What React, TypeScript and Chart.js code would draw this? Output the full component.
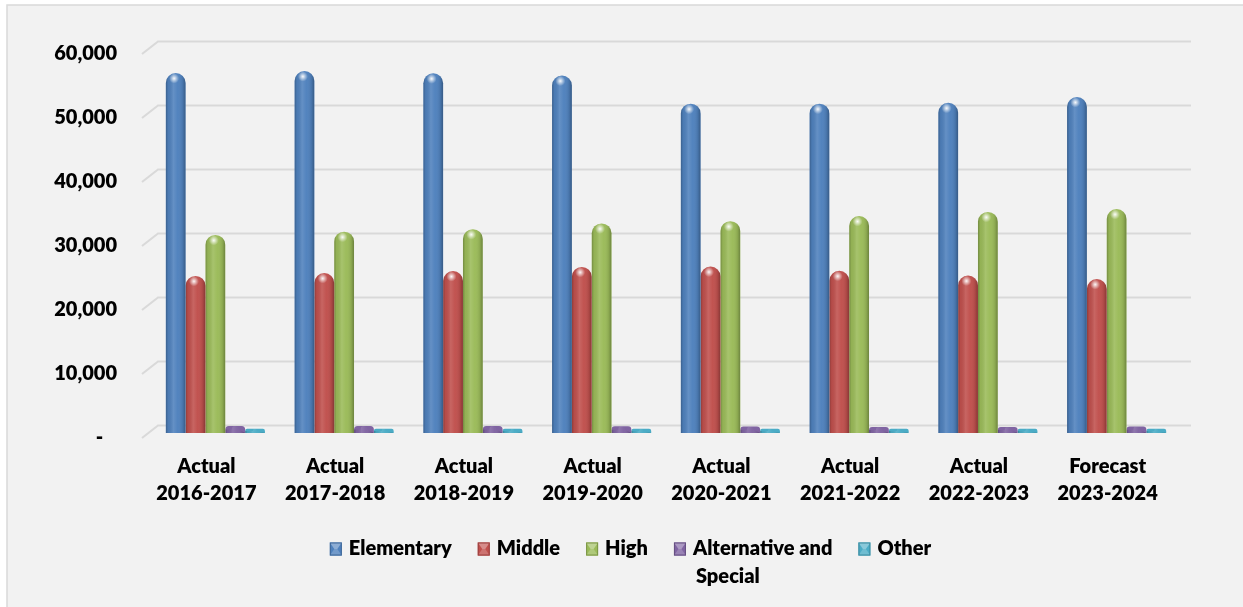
import React, { useEffect, useRef } from 'react';
import { Chart, registerables } from 'chart.js';

Chart.register(...registerables);

const categories: string[][] = [
  ['Actual', '2016-2017'],
  ['Actual', '2017-2018'],
  ['Actual', '2018-2019'],
  ['Actual', '2019-2020'],
  ['Actual', '2020-2021'],
  ['Actual', '2021-2022'],
  ['Actual', '2022-2023'],
  ['Forecast', '2023-2024'],
];

const seriesNames = ['Elementary', 'Middle', 'High', 'Alternative and Special', 'Other'];

const elementary = [56250, 56550, 56200, 55850, 51450, 51450, 51600, 52500];
const middle = [24550, 25000, 25300, 25950, 26000, 25350, 24600, 24050];
const high = [30950, 31450, 31850, 32750, 33100, 33900, 34550, 35000];
const alternative = [1100, 1100, 1100, 1050, 1000, 950, 950, 1000];
const other = [650, 650, 650, 650, 650, 650, 650, 650];

const seriesColors = ['#4f81bd', '#c0504d', '#9bbb59', '#8064a2', '#4bacc6'];

const yMin = 0;
const yMax = 60000;
const yStep = 10000;

const FONT = 'Lato, "Noto Sans", "DejaVu Sans", sans-serif';
const WEIGHT = '800';

function shade(hex: string, amt: number): string {
  const n = parseInt(hex.slice(1), 16);
  let r = (n >> 16) & 255, g = (n >> 8) & 255, b = n & 255;
  if (amt >= 0) {
    r = Math.round(r + (255 - r) * amt);
    g = Math.round(g + (255 - g) * amt);
    b = Math.round(b + (255 - b) * amt);
  } else {
    r = Math.round(r * (1 + amt));
    g = Math.round(g * (1 + amt));
    b = Math.round(b * (1 + amt));
  }
  return `rgb(${r},${g},${b})`;
}

const backgroundPlugin = {
  id: 'frameBg',
  beforeDraw(chart: any) {
    const { ctx, width, height } = chart;
    ctx.save();
    ctx.fillStyle = '#ffffff';
    ctx.fillRect(0, 0, width, height);
    ctx.fillStyle = '#f2f2f2';
    ctx.fillRect(7, 5, width - 7, height - 5);
    ctx.strokeStyle = '#d9d9d9';
    ctx.lineWidth = 1.5;
    ctx.beginPath();
    ctx.moveTo(7, height);
    ctx.lineTo(7, 5);
    ctx.lineTo(width, 5);
    ctx.stroke();
    ctx.restore();
  },
};

const grid3dPlugin = {
  id: 'grid3d',
  beforeDatasetsDraw(chart: any) {
    const { ctx, chartArea } = chart;
    const ys = chart.scales.y;
    ctx.save();
    ctx.strokeStyle = '#d9d9d9';
    ctx.lineWidth = 2;
    for (let v = yMin; v <= yMax; v += yStep) {
      const p = ys.getPixelForValue(v);
      ctx.beginPath();
      ctx.moveTo(chartArea.left - 9, p + 5);
      ctx.lineTo(chartArea.left + 7, p - 7.5);
      ctx.lineTo(chartArea.right + 10, p - 7.5);
      ctx.stroke();
    }
    ctx.restore();
  },
};

const cylinderPlugin = {
  id: 'cylinderShade',
  afterDatasetsDraw(chart: any) {
    const { ctx } = chart;
    ctx.save();
    chart.data.datasets.forEach((ds: any, di: number) => {
      const meta = chart.getDatasetMeta(di);
      meta.data.forEach((el: any) => {
        const { x, y, base, width } = el.getProps(['x', 'y', 'base', 'width'], true);
        const h = base - y;
        if (!(h > 0)) return;
        const left = x - width / 2;
        const right = x + width / 2;
        const r = Math.min(width / 2, h / 2);
        ctx.save();
        ctx.beginPath();
        ctx.moveTo(left, base);
        ctx.lineTo(left, y + r);
        ctx.arc(x, y + r, r, Math.PI, 0, false);
        ctx.lineTo(right, base);
        ctx.closePath();
        ctx.clip();
        const g = ctx.createLinearGradient(left, 0, right, 0);
        g.addColorStop(0, 'rgba(0,0,0,0.26)');
        g.addColorStop(0.12, 'rgba(0,0,0,0.05)');
        g.addColorStop(0.38, 'rgba(255,255,255,0.12)');
        g.addColorStop(0.6, 'rgba(255,255,255,0.02)');
        g.addColorStop(0.86, 'rgba(0,0,0,0.1)');
        g.addColorStop(1, 'rgba(0,0,0,0.3)');
        ctx.fillStyle = g;
        ctx.fillRect(left, y, width, h);
        if (h > 20) {
          const hx = x - width * 0.08;
          const hy = y + r * 0.55;
          const rg = ctx.createRadialGradient(hx, hy, 0, hx, hy, 5);
          rg.addColorStop(0, 'rgba(255,255,255,0.95)');
          rg.addColorStop(0.5, 'rgba(255,255,255,0.45)');
          rg.addColorStop(1, 'rgba(255,255,255,0)');
          ctx.fillStyle = rg;
          ctx.fillRect(hx - 6, hy - 6, 12, 12);
        }
        ctx.restore();
      });
    });
    ctx.restore();
  },
};

const legendPlugin = {
  id: 'cylLegend',
  afterDraw(chart: any) {
    const { ctx } = chart;
    const fontSize = 20;
    const boxW = 12;
    const boxH = 13;
    const boxGap = 7;
    const itemGap = 26;
    const maxText = 155;
    const rowY = 549;
    const lineH = 28;
    ctx.save();
    ctx.font = `${WEIGHT} ${fontSize}px ${FONT}`;
    const items = chart.data.datasets.map((ds: any, i: number) => {
      const words = String(ds.label).split(' ');
      const lines: string[] = [];
      let cur = '';
      words.forEach((w) => {
        const test = cur ? cur + ' ' + w : w;
        if (ctx.measureText(test).width > maxText && cur) {
          lines.push(cur);
          cur = w;
        } else {
          cur = test;
        }
      });
      if (cur) lines.push(cur);
      const tw = Math.max(...lines.map((l) => ctx.measureText(l).width));
      return { lines, tw, color: seriesColors[i] };
    });
    const total = items.reduce((s: number, it: any) => s + boxW + boxGap + it.tw, 0) + itemGap * (items.length - 1);
    let cx = 630.5 - total / 2;
    ctx.textBaseline = 'middle';
    ctx.textAlign = 'left';
    items.forEach((it: any) => {
      const bx = cx;
      const by = rowY - boxH / 2;
      ctx.fillStyle = it.color;
      ctx.fillRect(bx, by, boxW, boxH);
      const mx = bx + boxW / 2;
      const my = by + boxH / 2;
      ctx.fillStyle = shade(it.color, 0.35);
      ctx.beginPath();
      ctx.moveTo(bx, by);
      ctx.lineTo(bx + boxW, by);
      ctx.lineTo(mx + 1.5, my);
      ctx.lineTo(mx - 1.5, my);
      ctx.closePath();
      ctx.fill();
      ctx.fillStyle = shade(it.color, 0.2);
      ctx.beginPath();
      ctx.moveTo(bx, by + boxH);
      ctx.lineTo(bx + boxW, by + boxH);
      ctx.lineTo(mx + 1.5, my);
      ctx.lineTo(mx - 1.5, my);
      ctx.closePath();
      ctx.fill();
      ctx.strokeStyle = shade(it.color, -0.2);
      ctx.lineWidth = 1;
      ctx.strokeRect(bx + 0.5, by + 0.5, boxW - 1, boxH - 1);
      ctx.fillStyle = '#000000';
      const tx = bx + boxW + boxGap;
      it.lines.forEach((l: string, li: number) => {
        ctx.fillText(l, tx + (li > 0 ? 3 : 0), rowY + li * lineH);
      });
      cx = tx + it.tw + itemGap;
    });
    ctx.restore();
  },
};

export default function App() {
  const ref = useRef<HTMLCanvasElement | null>(null);

  useEffect(() => {
    if (!ref.current) return;
    const seriesValues = [elementary, middle, high, alternative, other];
    const chart = new Chart(ref.current, {
      type: 'bar',
      data: {
        labels: categories,
        datasets: seriesNames.map((name, i) => ({
          label: name,
          data: seriesValues[i],
          backgroundColor: seriesColors[i],
          borderWidth: 0,
          borderRadius: { topLeft: 10, topRight: 10, bottomLeft: 0, bottomRight: 0 },
          borderSkipped: 'start' as const,
          barPercentage: 1,
          categoryPercentage: 0.77,
        })),
      },
      options: {
        responsive: false,
        animation: false,
        devicePixelRatio: 1,
        layout: { padding: { top: 49, right: 62, bottom: 0, left: 0 } },
        plugins: {
          legend: { display: false },
          tooltip: { enabled: false },
          title: { display: false },
        },
        scales: {
          x: {
            grid: { display: false, drawTicks: false },
            border: { display: false },
            ticks: {
              color: '#000000',
              padding: 20,
              labelOffset: -9,
              maxRotation: 0,
              autoSkip: false,
              font: { family: FONT, size: 20, weight: WEIGHT as any, lineHeight: 1.35 },
            },
            afterFit: (scale: any) => {
              scale.height = 174;
            },
          },
          y: {
            min: yMin,
            max: yMax,
            grid: { display: false, drawTicks: false },
            border: { display: false },
            ticks: {
              stepSize: yStep,
              color: '#000000',
              padding: 34,
              labelOffset: 5,
              font: { family: FONT, size: 20, weight: WEIGHT as any },
              callback: (v: any) => (Number(v) === 0 ? '-   ' : Number(v).toLocaleString('en-US')),
            },
            afterFit: (scale: any) => {
              scale.width = 151;
            },
          },
        },
      },
      plugins: [backgroundPlugin, grid3dPlugin, cylinderPlugin, legendPlugin],
    });
    return () => chart.destroy();
  }, []);

  return (
    <div style={{ position: 'fixed', left: 0, top: 0, width: 1243, height: 607 }}>
      <canvas ref={ref} width={1243} height={607} style={{ width: 1243, height: 607, display: 'block' }} />
    </div>
  );
}
